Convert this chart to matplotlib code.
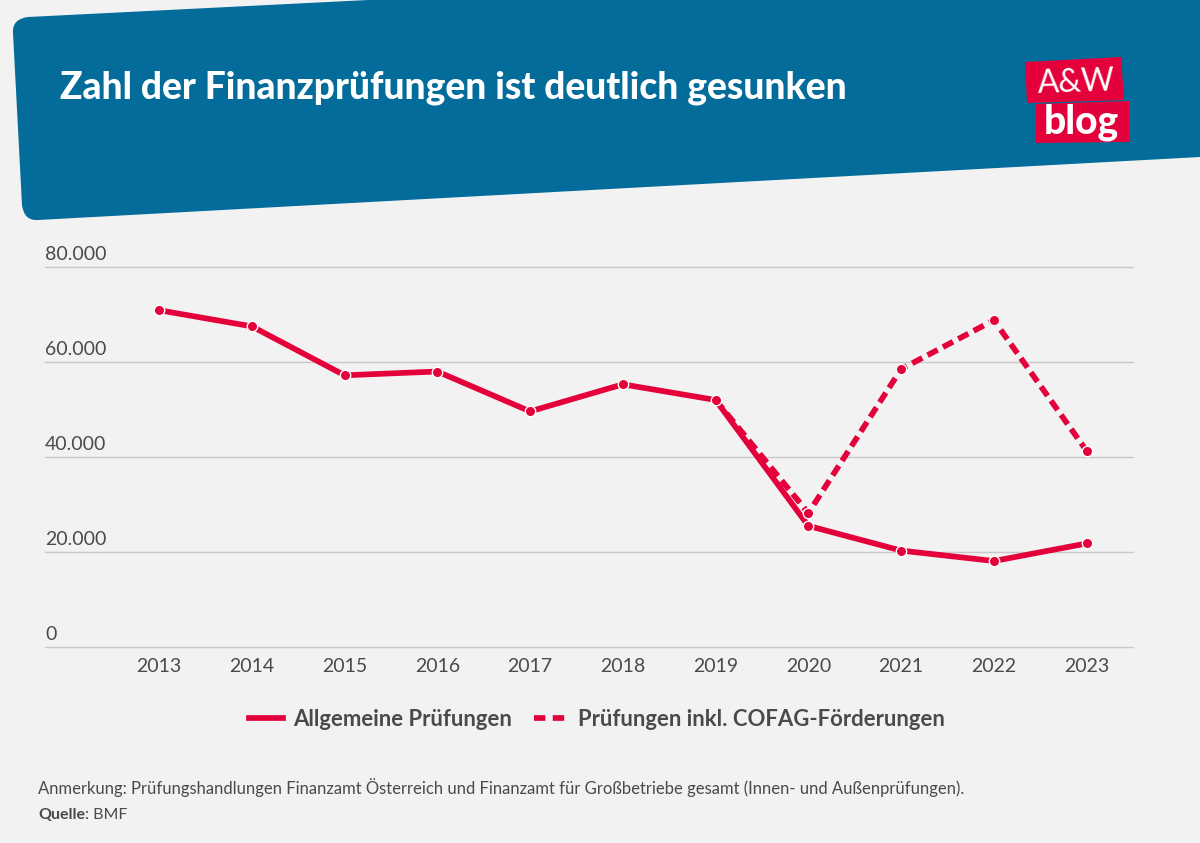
import matplotlib
matplotlib.use('Agg')
import matplotlib.pyplot as plt
from matplotlib.patches import PathPatch, Polygon
from matplotlib.path import Path
from matplotlib.lines import Line2D
from matplotlib.transforms import ScaledTranslation

years = [2013, 2014, 2015, 2016, 2017, 2018, 2019, 2020, 2021, 2022, 2023]
allgemein = [70900, 67500, 57200, 58000, 49600, 55300, 52000, 25500, 20300, 18100, 21800]
cofag_years = [2019, 2020, 2021, 2022, 2023]
cofag = [52000, 28200, 58500, 68800, 41300]
y_ticks = [0, 20000, 40000, 60000, 80000]
y_labels = ['0', '20.000', '40.000', '60.000', '80.000']

RED = '#e4003a'
BLUE = '#036c9b'
BG = '#f2f2f2'
TEXT = '#4a4a4a'

plt.rcParams['font.family'] = ['Lato', 'DejaVu Sans']

fig = plt.figure(figsize=(12, 8.43), dpi=100, facecolor=BG)

# overlay in pixel coordinates for the banner and logo
deco = fig.add_axes([0, 0, 1, 1], zorder=0)
deco.set_xlim(0, 1200)
deco.set_ylim(843, 0)
deco.axis('off')

banner = [
    (Path.MOVETO, (13, 33)), (Path.CURVE3, (12, 19)), (Path.CURVE3, (28, 17)),
    (Path.LINETO, (368, 0)), (Path.LINETO, (1200, 0)), (Path.LINETO, (1200, 157)),
    (Path.LINETO, (38, 220)), (Path.CURVE3, (24, 221)), (Path.CURVE3, (22, 205)),
    (Path.CLOSEPOLY, (13, 33)),
]
codes, verts = zip(*banner)
deco.add_patch(PathPatch(Path(verts, codes), fc=BLUE, ec='none'))
deco.add_patch(Polygon([(1025, 62), (1121, 57), (1124, 100), (1027, 103)], fc=RED, ec='none'))
deco.add_patch(Polygon([(1036, 104), (1129, 101), (1129, 142), (1036, 143)], fc=RED, ec='none'))
deco.text(1076, 83, 'A&W', color='white', fontsize=23, fontweight='normal',
          ha='center', va='center', rotation=2)
deco.text(1081, 122, 'blog', color='white', fontsize=28, fontweight='black',
          ha='center', va='center')

deco.text(60, 88, 'Zahl der Finanzprüfungen ist deutlich gesunken', color='white', fontsize=26.7,
          fontweight='black', ha='left', va='center')

deco.text(38, 788, 'Anmerkung: Prüfungshandlungen Finanzamt Österreich und Finanzamt für Großbetriebe '
          'gesamt (Innen- und Außenprüfungen).', color=TEXT, fontsize=11.95, ha='left', va='center')
t = deco.text(38, 815, 'Quelle', color=TEXT, fontsize=11.5, fontweight='bold', ha='left', va='center')
deco.annotate(': BMF', xy=(1, 0), xycoords=t, va='bottom', ha='left', color=TEXT, fontsize=11.5)

ax = fig.add_axes([45 / 1200, 1 - 647 / 843, 1088 / 1200, 380 / 843], zorder=1)
ax.patch.set_alpha(0)
ax.set_xlim(2011.77, 2023.5)
ax.set_ylim(0, 80000)

ax.plot(years, allgemein, color=RED, lw=4.1, solid_joinstyle='round', zorder=3)
ax.plot(cofag_years, cofag, color=RED, lw=4.1, dashes=(2.0, 1.05), zorder=3)
ax.plot(years, allgemein, ls='none', marker='o', ms=7.5, mfc=RED, mec='white', mew=1, zorder=4)
ax.plot(cofag_years[1:], cofag[1:], ls='none', marker='o', ms=7.5, mfc=RED, mec='white', mew=1, zorder=4)

ax.set_xticks(years)
ax.set_yticks(y_ticks)
ax.set_yticklabels(y_labels)
ax.grid(axis='y', color='#c8c8c8', lw=1, clip_on=False)
ax.set_axisbelow(True)
for s in ax.spines.values():
    s.set_visible(False)
ax.tick_params(axis='x', length=0, pad=8, labelsize=14, labelcolor=TEXT)
ax.tick_params(axis='y', length=0, pad=0, labelsize=14, labelcolor=TEXT)
# labels sit left aligned just above their gridline
lift = ScaledTranslation(0, 4 / 100, fig.dpi_scale_trans)
for lab in ax.get_yticklabels():
    lab.set_ha('left')
    lab.set_va('bottom')
    lab.set_transform(lab.get_transform() + lift)

handles = [
    Line2D([], [], color=RED, lw=4.1),
    Line2D([], [], color=RED, lw=4.1, dashes=(2.0, 1.3)),
]
fig.legend(handles, ['Allgemeine Prüfungen', 'Prüfungen inkl. COFAG-Förderungen'],
           loc='center', bbox_to_anchor=(597 / 1200, 1 - 719 / 843), ncol=2, frameon=False,
           prop={'size': 15.9, 'weight': 'bold'}, labelcolor=TEXT, handlelength=1.55,
           columnspacing=1.0, handletextpad=0.45)

fig.savefig('out.png', dpi=100, facecolor=BG)
